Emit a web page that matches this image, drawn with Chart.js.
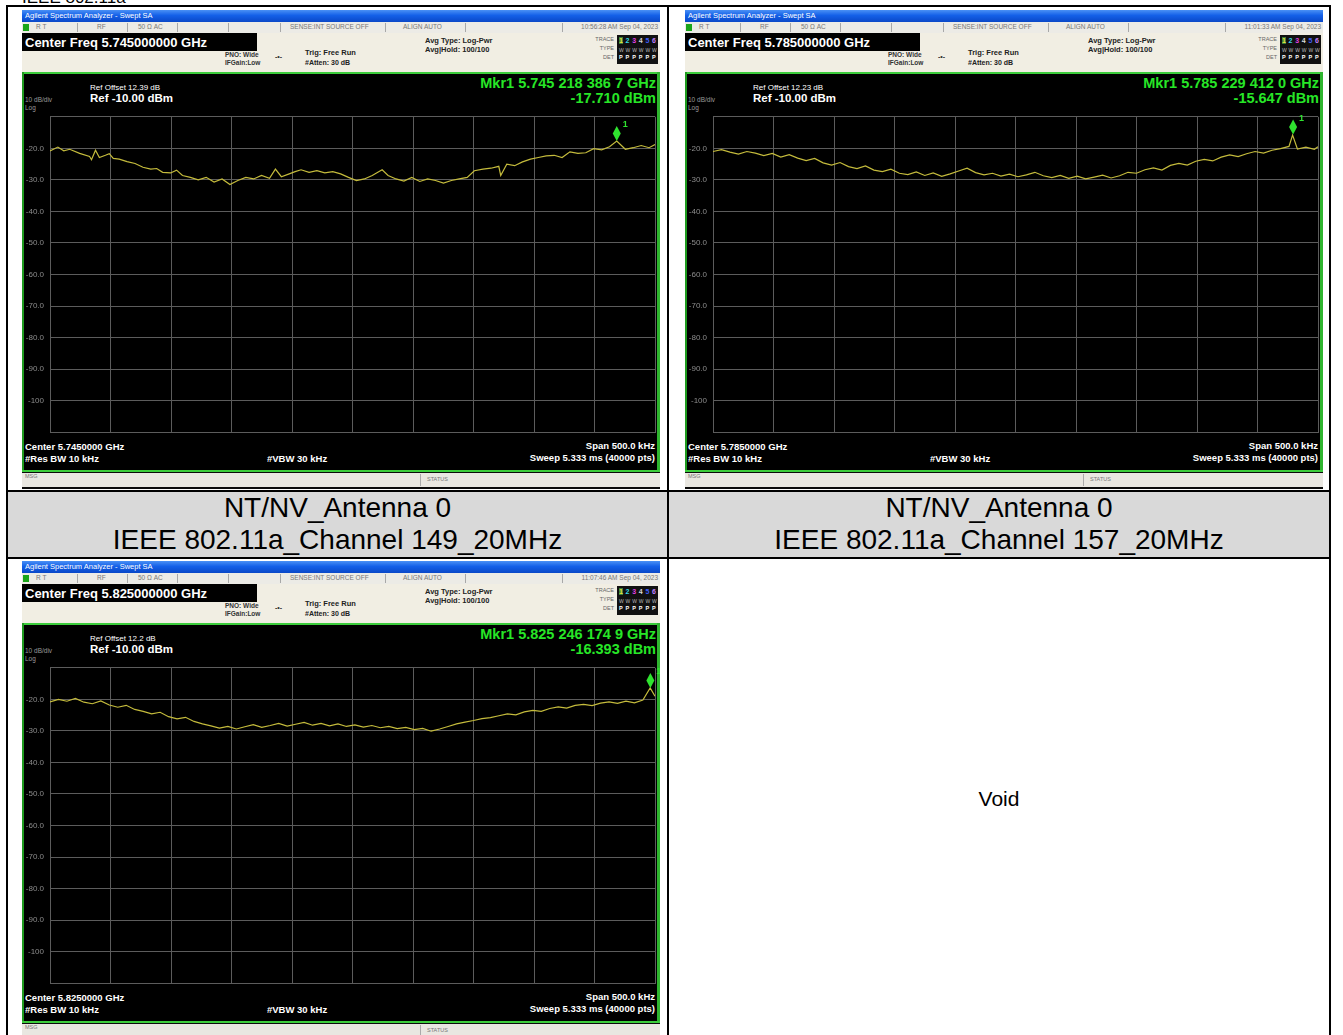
<!DOCTYPE html>
<html><head><meta charset="utf-8">
<script src="https://cdn.jsdelivr.net/npm/chart.js@4.4.0/dist/chart.umd.min.js"></script>
<style>
html,body{margin:0;padding:0;background:#fff;width:1343px;height:1035px;overflow:hidden;position:relative;font-family:"Liberation Sans",Arial,sans-serif;}
.b{position:absolute;background:#000;}
.shot{position:absolute;width:638px;height:479px;background:#0b0b0b;overflow:hidden;}
.t{position:absolute;white-space:nowrap;line-height:1;}
.box{position:absolute;}
canvas{position:absolute;}
.cap{position:absolute;text-align:center;font-size:28px;line-height:32px;color:#000;}
</style></head><body>
<script>
// ---------- data ----------
const traceFreq149 = [-250,-243.5,-238.6,-233.7,-225.5,-217.3,-215.7,-212.4,-209.2,-204.2,-201.0,-197.7,-192.8,-186.3,-179.7,-173.2,-166.7,-161.8,-156.9,-150.3,-145.4,-140.5,-134.0,-127.5,-120.9,-114.4,-107.8,-101.3,-94.8,-88.2,-81.7,-75.2,-68.6,-63.7,-58.8,-52.3,-47.4,-42.5,-35.9,-29.4,-22.9,-16.3,-9.8,-3.3,3.3,9.8,16.3,24.5,29.4,36.0,42.5,49.0,55.6,62.1,68.6,75.2,81.7,88.2,94.8,100.7,107.8,114.4,120.9,122.5,127.5,134.0,140.5,147.1,153.6,160.1,166.7,173.2,179.7,186.3,192.8,199.3,205.9,212.4,218.4,225.5,232.0,238.6,245.1,250];
const traceLevel149 = [-20.8,-19.6,-20.8,-20.3,-21.6,-22.6,-23.6,-20.6,-22.9,-22.2,-21.7,-23.2,-23.4,-24.2,-24.8,-26.0,-26.6,-26.4,-27.6,-27.8,-26.9,-28.6,-29.2,-30.0,-29.2,-30.7,-29.7,-31.5,-30.2,-29.2,-29.7,-28.6,-29.5,-26.6,-29.0,-28.1,-27.4,-26.8,-27.6,-27.1,-27.8,-27.4,-28.1,-29.2,-30.2,-29.7,-28.6,-26.8,-28.6,-29.7,-30.4,-29.2,-30.5,-29.7,-30.2,-31.0,-30.2,-29.7,-29.2,-27.1,-26.6,-26.3,-25.7,-28.6,-25.0,-25.5,-24.3,-23.4,-22.9,-22.4,-22.2,-22.9,-21.1,-21.6,-21.4,-20.1,-20.5,-19.5,-17.7,-20.3,-19.8,-19.1,-19.8,-18.8];

const traceFreq157 = [-250,-243,-236,-229,-222,-215,-208,-201,-194,-187,-180,-173,-166,-159,-152,-145,-138,-131,-124,-117,-110,-103,-96,-89,-82,-75,-68,-61,-54,-47,-40,-33,-26,-19,-12,-5,2,9,16,23,30,37,44,51,58,65,72,79,86,93,100,107,114,121,128,135,142,149,156,163,170,177,184,191,198,205,212,219,226,229,233,240,247,250];
const traceLevel157 = [-21.0,-20.4,-21.2,-21.8,-21.0,-21.5,-22.3,-21.6,-22.8,-22.0,-23.1,-23.9,-23.2,-24.6,-25.3,-24.5,-25.8,-26.4,-25.6,-26.9,-27.4,-26.6,-27.9,-28.3,-27.5,-28.6,-27.8,-28.9,-28.1,-27.2,-26.3,-27.7,-28.4,-27.9,-28.8,-28.2,-29.0,-28.4,-27.6,-28.7,-29.3,-28.6,-29.5,-28.8,-29.7,-29.1,-28.5,-29.4,-28.7,-27.6,-27.9,-26.8,-26.2,-26.9,-25.4,-24.8,-25.3,-24.1,-23.5,-24.0,-22.8,-22.1,-22.6,-21.7,-21.0,-21.5,-20.6,-20.1,-19.4,-15.8,-20.2,-19.6,-20.3,-19.5];

const traceFreq165 = [-250,-243,-236,-229,-222,-215,-208,-201,-194,-187,-180,-173,-166,-159,-152,-145,-138,-131,-124,-117,-110,-103,-96,-89,-82,-75,-68,-61,-54,-47,-40,-33,-26,-19,-12,-5,2,9,16,23,30,37,44,51,58,65,72,79,86,93,100,107,114,121,128,135,142,149,156,163,170,177,184,191,198,205,212,219,226,233,240,246,250];
const traceLevel165 = [-20.8,-20.0,-20.6,-19.7,-20.9,-21.4,-20.5,-21.8,-22.5,-21.9,-23.2,-23.8,-24.6,-24.1,-25.5,-26.2,-25.7,-27.0,-27.8,-28.4,-29.1,-28.6,-29.4,-28.7,-28.0,-28.9,-28.3,-27.6,-28.5,-27.9,-27.3,-28.2,-27.6,-28.4,-27.8,-28.6,-28.1,-28.8,-28.3,-29.0,-28.6,-29.3,-28.9,-29.6,-29.2,-30.1,-29.4,-28.6,-27.8,-27.2,-26.7,-26.1,-25.8,-25.2,-24.6,-24.9,-24.0,-23.5,-23.8,-22.9,-22.4,-22.8,-21.9,-21.6,-22.0,-21.2,-20.8,-21.3,-20.6,-21.1,-20.2,-16.4,-19.0];

const markerFreqKHz = [218.3867, 229.4120, 246.1749];
const markerLevel = [-17.710, -15.647, -16.393];
const markerFreqText = ['Mkr1 5.745 218 386 7 GHz','Mkr1 5.785 229 412 0 GHz','Mkr1 5.825 246 174 9 GHz'];
const markerLevelText = ['-17.710 dBm','-15.647 dBm','-16.393 dBm'];
const centerFreqText = ['5.745000000 GHz','5.785000000 GHz','5.825000000 GHz'];
const centerShortText = ['5.7450000 GHz','5.7850000 GHz','5.8250000 GHz'];
const refOffsetText = ['12.39 dB','12.23 dB','12.2 dB'];
const timeText = ['10:56:28 AM Sep 04, 2023','11:01:33 AM Sep 04, 2023','11:07:46 AM Sep 04, 2023'];
const yTickValues = [-110,-100,-90,-80,-70,-60,-50,-40,-30,-20,-10];
const captionLine1 = ['NT/NV_Antenna 0','NT/NV_Antenna 0'];
const captionLine2 = ['IEEE 802.11a_Channel 149_20MHz','IEEE 802.11a_Channel 157_20MHz'];
const traceFreqs = [traceFreq149, traceFreq157, traceFreq165];
const traceLevels = [traceLevel149, traceLevel157, traceLevel165];

// ---------- page frame ----------
function el(cls, css, parent){const d=document.createElement('div');d.className=cls;Object.assign(d.style,css);(parent||document.body).appendChild(d);return d;}
function T(p,x,cy,txt,size,color,bold,align){
  const d=document.createElement('div');d.className='t';d.textContent=txt;
  d.style.top=(cy-size/2)+'px';d.style.fontSize=size+'px';d.style.color=color;d.style.fontWeight=bold?'bold':'normal';
  if(align==='r'){d.style.right=(638-x)+'px';}else d.style.left=x+'px';
  p.appendChild(d);return d;
}
const h=el('t',{left:'22px',top:'-11px',fontSize:'17px',lineHeight:'17px',color:'#000'});h.textContent='IEEE 802.11a';
el('box',{left:'8px',top:'492px',width:'1321px',height:'65px',background:'#d9d9d9'});
el('b',{left:'6px',top:'5px',width:'1325px',height:'2px'});
el('b',{left:'6px',top:'5px',width:'2px',height:'1040px'});
el('b',{left:'1329px',top:'5px',width:'2px',height:'1040px'});
el('b',{left:'667px',top:'5px',width:'2px',height:'1040px'});
el('b',{left:'6px',top:'490px',width:'1325px',height:'2px'});
el('b',{left:'6px',top:'557px',width:'1325px',height:'2px'});
for(let i=0;i<2;i++){
  const c=el('cap',{left:(i===0?8:669)+'px',top:'492px',width:(i===0?659:660)+'px'});
  c.innerHTML=captionLine1[i]+'<br>'+captionLine2[i];
}
const v=el('t',{left:'999px',top:'788px',fontSize:'21px',color:'#000',transform:'translateX(-50%)'});v.textContent='Void';

// ---------- marker plugin (uses chart scales) ----------
const markerPlugin={id:'mkr',afterDatasetsDraw(chart){
  const i=chart.options.plugins.mkr.idx;const ctx=chart.ctx;
  const px=chart.scales.x.getPixelForValue(markerFreqKHz[i]);
  const py=chart.scales.y.getPixelForValue(markerLevel[i]);
  ctx.save();
  ctx.fillStyle='#2fe32f';
  ctx.beginPath();ctx.moveTo(px,py);ctx.lineTo(px+4,py-7.5);ctx.lineTo(px,py-15);ctx.lineTo(px-4,py-7.5);ctx.closePath();ctx.fill();
  ctx.font='bold 9px "Liberation Sans"';ctx.fillStyle='#2fe32f';ctx.fillText('1',px+6,py-14);
  ctx.restore();
}};

// ---------- analyzer screenshot ----------
function shot(sx,sy,i){
  const s=el('shot',{left:sx+'px',top:sy+'px'});
  el('box',{left:'0',top:'0',width:'638px',height:'12px',background:'linear-gradient(#4a90f5,#1460e8 45%,#0a48c8)'},s);
  T(s,3,6,'Agilent Spectrum Analyzer - Swept SA',7.5,'#fff',false);
  el('box',{left:'0',top:'12px',width:'638px',height:'11px',background:'#ecebe6'},s);
  el('box',{left:'1px',top:'14px',width:'6px',height:'7px',background:'#1aa51a'},s);
  [55,105,155,206,258,363,443,540].forEach(x=>el('box',{left:x+'px',top:'13px',width:'1px',height:'9px',background:'#a8a8a8'},s));
  T(s,14,17.5,'R  T',6.5,'#777',false);T(s,75,17.5,'RF',6.5,'#777',false);T(s,116,17.5,'50 \u03A9  AC',6.5,'#777',false);
  T(s,268,17.5,'SENSE:INT  SOURCE OFF',6.5,'#777',false);T(s,381,17.5,'ALIGN AUTO',6.5,'#777',false);
  T(s,636,17.5,timeText[i],6.5,'#777',false,'r');
  el('box',{left:'0',top:'23px',width:'638px',height:'39px',background:'#f1eee3'},s);
  el('box',{left:'0',top:'23px',width:'235px',height:'18px',background:'#000'},s);
  T(s,3,32,'Center Freq '+centerFreqText[i],13,'#fff',true);
  T(s,203,45,'PNO: Wide',6.5,'#333',true);T(s,203,53,'IFGain:Low',6.5,'#333',true);
  T(s,253,46,'-\u2022-',7,'#333',true);
  T(s,283,43,'Trig: Free Run',7.5,'#222',true);T(s,283,52,'#Atten: 30 dB',7,'#222',true);
  T(s,403,31,'Avg Type: Log-Pwr',7.5,'#222',true);T(s,403,40,'Avg|Hold: 100/100',7.5,'#222',true);
  T(s,592,30,'TRACE',5.5,'#666',false,'r');T(s,592,39,'TYPE',5.5,'#666',false,'r');T(s,592,48,'DET',5.5,'#666',false,'r');
  const tb=el('box',{left:'595px',top:'25px',width:'41px',height:'29px',background:'#111'},s);
  const cols=['#e6e63a','#39d8e8','#e040e0','#d8d8d8','#4060ff','#c080ff'];
  for(let k=0;k<6;k++){const d=T(tb,2+k*6.6,5,String(k+1),7,cols[k],true);if(k===0){d.style.background='#3a7a3a';}
    T(tb,2+k*6.6,15,'W',5,'#bbb',false);T(tb,2+k*6.6,23,'P',5.5,'#fff',true);}
  el('box',{left:'0',top:'62px',width:'638px',height:'2px',background:'#3ccd3c'},s);
  el('box',{left:'0',top:'64px',width:'638px',height:'397px',background:'#000'},s);
  el('box',{left:'0',top:'62px',width:'2px',height:'400px',background:'#1f9b1f'},s);
  el('box',{left:'635px',top:'62px',width:'3px',height:'400px',background:'#2fb52f'},s);
  T(s,3,90,'10 dB/div',6.5,'#9a9a9a',false);T(s,3,98,'Log',6.5,'#9a9a9a',false);
  T(s,68,78,'Ref Offset '+refOffsetText[i],8,'#fff',false);
  T(s,68,89,'Ref -10.00 dBm',11.5,'#fff',true);
  T(s,634,73,markerFreqText[i],14.5,'#27e627',true,'r');
  T(s,634,88,markerLevelText[i],14.5,'#27e627',true,'r');
  T(s,3,437,'Center '+centerShortText[i],9.5,'#fff',true);
  T(s,3,449,'#Res BW 10 kHz',9.5,'#fff',true);
  T(s,245,449,'#VBW 30 kHz',9.5,'#fff',true);
  T(s,633,436,'Span 500.0 kHz',9.5,'#fff',true,'r');
  T(s,633,448,'Sweep  5.333 ms (40000 pts)',9.5,'#fff',true,'r');
  el('box',{left:'0',top:'460px',width:'638px',height:'2px',background:'#3ccd3c'},s);
  el('box',{left:'0',top:'463px',width:'638px',height:'14px',background:'#e9e7e1'},s);
  el('box',{left:'398px',top:'464px',width:'1px',height:'12px',background:'#aaa'},s);
  T(s,3,467,'MSG',5.5,'#777',false);T(s,405,470,'STATUS',5.5,'#777',false);

  const cv=document.createElement('canvas');cv.width=638;cv.height=337;cv.style.left='0px';cv.style.top='96px';cv.style.width='638px';cv.style.height='337px';s.appendChild(cv);
  const f=traceFreqs[i], lv=traceLevels[i];
  new Chart(cv,{type:'line',
    data:{datasets:[{data:f.map((x,k)=>({x:x,y:lv[k]})),borderColor:'#c4bb3c',borderWidth:1.2,pointRadius:0,tension:0,fill:false}]},
    options:{responsive:false,animation:false,devicePixelRatio:1,
      layout:{padding:{top:5,bottom:5,right:5,left:0}},
      plugins:{legend:{display:false},tooltip:{enabled:false},mkr:{idx:i}},
      scales:{
        x:{type:'linear',min:-250,max:250,ticks:{display:false,stepSize:50},grid:{color:'#5c5c5c',drawTicks:false},border:{color:'#5c5c5c'},afterFit(sc){sc.height=0;}},
        y:{type:'linear',min:-110,max:-10,afterBuildTicks(sc){sc.ticks=yTickValues.map(v=>({value:v}));},
           ticks:{color:'#8c8c8c',font:{size:8,family:'"Liberation Sans"'},padding:6,
             callback:(v)=>(v===-10||v===-110)?'':(v===-100?'-100':v.toFixed(1))},
           grid:{color:'#5c5c5c',drawTicks:false},border:{color:'#5c5c5c'},afterFit(sc){sc.width=28;}}
      }},
    plugins:[markerPlugin]});
}
shot(22,10,0);
shot(685,10,1);
shot(22,561,2);
</script>
</body></html>
